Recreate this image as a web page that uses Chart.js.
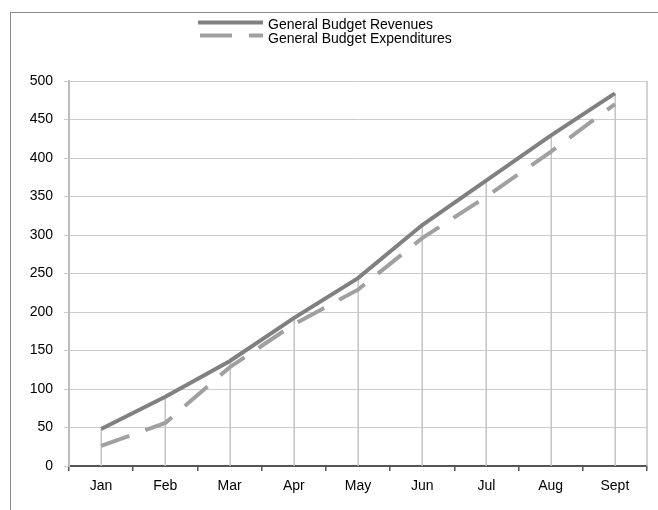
<!DOCTYPE html>
<html>
<head>
<meta charset="utf-8">
<script src="https://cdn.jsdelivr.net/npm/chart.js@4.4.1/dist/chart.umd.min.js"></script>
<style>
  html, body { margin: 0; padding: 0; background: #fff; }
  #wrap { position: relative; width: 658px; height: 510px; overflow: hidden;
          font-family: "Liberation Sans", Arial, sans-serif; }
  #frame { position: absolute; left: 10px; top: 12px; width: 700px; height: 560px;
           border-top: 1.5px solid #8a8a8a; border-left: 1.5px solid #8a8a8a; }
  #chart { position: absolute; left: 0; top: 0; }
  .leg { position: absolute; left: 198px; height: 16px; font-size: 14px; line-height: 16px;
         color: #000; white-space: nowrap; }
  .leg svg { position: absolute; left: 0; top: 0; }
  .leg span { position: absolute; left: 70px; top: 0; }
</style>
</head>
<body>
<div id="wrap">
  <div id="frame"></div>
  <canvas id="chart" width="658" height="510"></canvas>
  <div class="leg" style="top:16px;">
    <svg width="68" height="16"><line x1="0" y1="6.5" x2="65" y2="6.5" stroke="#808080" stroke-width="4"/></svg>
    <span>General Budget Revenues</span>
  </div>
  <div class="leg" style="top:30px;">
    <svg width="68" height="16"><line x1="2" y1="5.5" x2="65" y2="5.5" stroke="#a0a0a0" stroke-width="4" stroke-dasharray="32 17"/></svg>
    <span>General Budget Expenditures</span>
  </div>
</div>
<script>
// Monthly cumulative budget figures
const months = ['Jan', 'Feb', 'Mar', 'Apr', 'May', 'Jun', 'Jul', 'Aug', 'Sept'];
const revenues = [48, 90, 136, 192, 244, 313, 371, 429, 484];
const expenditures = [26, 56, 128, 184, 229, 296, 350, 408, 470];
const yMin = 0;
const yMax = 500;
const yStep = 50;

const FONT = { family: '"Liberation Sans", Arial, sans-serif', size: 14 };

// Vertical drop lines from each month's highest value to the axis, plus the plot's right edge
const dropLines = {
  id: 'dropLines',
  beforeDatasetsDraw(chart) {
    const { ctx, chartArea, scales: { x, y } } = chart;
    ctx.save();
    ctx.strokeStyle = '#c4c4c4';
    ctx.lineWidth = 1.5;
    months.forEach((m, i) => {
      const px = Math.round(x.getPixelForValue(i)) + 0.25;
      const top = y.getPixelForValue(Math.max(revenues[i], expenditures[i]));
      ctx.beginPath();
      ctx.moveTo(px, top);
      ctx.lineTo(px, y.getPixelForValue(0));
      ctx.stroke();
    });
    ctx.beginPath();
    ctx.moveTo(chartArea.right, chartArea.top);
    ctx.lineTo(chartArea.right, chartArea.bottom);
    ctx.stroke();
    ctx.restore();
  }
};

new Chart(document.getElementById('chart'), {
  type: 'line',
  data: {
    labels: months,
    datasets: [
      {
        label: 'General Budget Revenues',
        data: revenues,
        borderColor: '#808080',
        borderWidth: 4,
        pointRadius: 0,
        tension: 0
      },
      {
        label: 'General Budget Expenditures',
        data: expenditures,
        borderColor: '#a0a0a0',
        borderWidth: 4,
        borderDash: [30, 17],
        pointRadius: 0,
        tension: 0
      }
    ]
  },
  options: {
    responsive: false,
    animation: false,
    layout: { padding: { left: 0, top: 81, right: 11, bottom: 0 } },
    plugins: { legend: { display: false }, tooltip: { enabled: false } },
    scales: {
      x: {
        offset: true,
        grid: { offset: true, drawOnChartArea: false, drawTicks: true, tickLength: 5,
                color: '#555', lineWidth: 1.5 },
        border: { display: true, color: '#555', width: 2 },
        ticks: { color: '#000', font: FONT, padding: 7, maxRotation: 0, autoSkip: false },
        afterFit(s) { s.height = 44; }
      },
      y: {
        min: yMin,
        max: yMax,
        grid: { color: '#cccccc', lineWidth: 1, drawTicks: true, tickLength: 5 },
        border: { display: true, color: '#bdbdbd', width: 2 },
        ticks: { stepSize: yStep, color: '#000', font: FONT, padding: 11 },
        afterFit(s) { s.width = 69; }
      }
    }
  },
  plugins: [dropLines]
});
</script>
</body>
</html>
